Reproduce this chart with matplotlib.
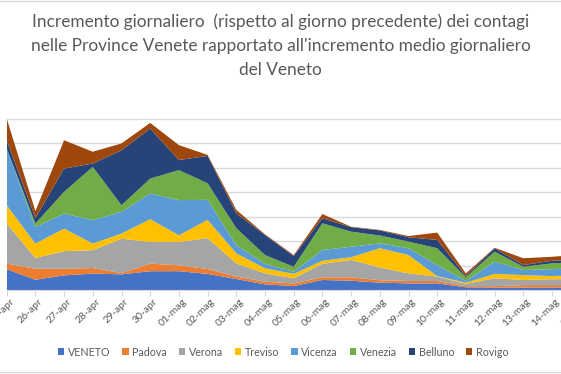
import numpy as np
import matplotlib.pyplot as plt
from matplotlib.transforms import ScaledTranslation

# date di riferimento (asse x)
dates = ['25-apr', '26-apr', '27-apr', '28-apr', '29-apr', '30-apr',
         '01-mag', '02-mag', '03-mag', '04-mag', '05-mag', '06-mag',
         '07-mag', '08-mag', '09-mag', '10-mag', '11-mag', '12-mag',
         '13-mag', '14-mag', '15-mag']

# valori (aree sovrapposte)
veneto  = [0.85, 0.42, 0.60, 0.67, 0.64, 0.77, 0.77, 0.66, 0.45, 0.23, 0.16,
           0.41, 0.38, 0.30, 0.27, 0.27, 0.11, 0.10, 0.10, 0.10, 0.10]
padova  = [0.23, 0.45, 0.27, 0.23, 0.05, 0.31, 0.24, 0.20, 0.10, 0.11, 0.11,
           0.11, 0.14, 0.10, 0.10, 0.10, 0.05, 0.06, 0.10, 0.10, 0.10]
verona  = [1.64, 0.44, 0.72, 0.73, 1.41, 0.89, 0.96, 1.26, 0.54, 0.34, 0.21,
           0.55, 0.71, 0.52, 0.31, 0.18, 0.09, 0.32, 0.21, 0.24, 0.25]
treviso = [0.75, 0.59, 0.92, 0.27, 0.21, 0.93, 0.27, 0.75, 0.41, 0.21, 0.18,
           0.13, 0.11, 0.79, 0.75, 0.02, 0.05, 0.18, 0.20, 0.13, 0.15]
vicenza = [2.32, 0.68, 0.62, 0.96, 0.89, 1.05, 1.44, 0.82, 0.34, 0.18, 0.09,
           0.44, 0.43, 0.20, 0.28, 0.45, 0.07, 0.50, 0.21, 0.28, 0.30]
venezia = [0.00, 0.14, 0.89, 2.18, 0.27, 0.61, 1.23, 0.68, 0.69, 0.36, 0.20,
           1.09, 0.62, 0.32, 0.27, 0.69, 0.15, 0.41, 0.13, 0.24, 0.25]
belluno = [0.34, 0.23, 0.95, 0.14, 2.25, 2.05, 0.41, 1.12, 0.61, 0.82, 0.44,
           0.21, 0.18, 0.21, 0.18, 0.34, 0.05, 0.14, 0.07, 0.11, 0.10]
rovigo  = [0.89, 0.28, 1.16, 0.48, 0.28, 0.23, 0.61, 0.04, 0.14, 0.03, 0.04,
           0.17, 0.02, 0.02, 0.05, 0.30, 0.11, 0.02, 0.28, 0.16, 0.20]

names = ['VENETO', 'Padova', 'Verona', 'Treviso', 'Vicenza', 'Venezia', 'Belluno', 'Rovigo']
colors = ['#4472C4', '#ED7D31', '#A5A5A5', '#FFC000', '#5B9BD5', '#70AD47', '#264478', '#9E480E']

title_lines = ['Incremento giornaliero  (rispetto al giorno precedente) dei contagi',
               "nelle Province Venete rapportato all'incremento medio giornaliero",
               'del Veneto']

plt.rcParams['font.family'] = ['Lato', 'DejaVu Sans']
txt_col = '#595959'
grid_col = '#D9D9D9'

fig = plt.figure(figsize=(5.61, 3.74), dpi=100)
# il grafico originale e' tagliato ai lati: l'asse esce dalla figura a destra
ax = fig.add_axes([6.7 / 561, 84 / 374, 574 / 561, 171 / 374])

x = np.arange(len(dates))
ax.stackplot(x, veneto, padova, verona, treviso, vicenza, venezia, belluno, rovigo,
             colors=colors, labels=names, linewidth=0)

ax.set_xlim(0, len(dates) - 1)
ax.set_ylim(0, 7)
ax.set_yticks(np.arange(0, 8, 1))
ax.yaxis.grid(True, color=grid_col, linewidth=1)
ax.set_axisbelow(True)
ax.tick_params(axis='y', left=False, labelleft=False)

ax.set_xticks(x)
ax.set_xticklabels(dates, rotation=45, ha='right', va='center',
                   rotation_mode='anchor', fontsize=7.5, color=txt_col)
ax.tick_params(axis='x', length=4, color=grid_col, pad=3)
# etichette leggermente spostate a destra come in Excel
shift = ScaledTranslation(6 / 100, 0, fig.dpi_scale_trans)
for lab in ax.get_xticklabels():
    lab.set_transform(lab.get_transform() + shift)

for side in ['top', 'right', 'left']:
    ax.spines[side].set_visible(False)
ax.spines['bottom'].set_color(grid_col)

for i, line in enumerate(title_lines):
    fig.text(0.5, 1 - (22 + 24 * i) / 374, line, ha='center', va='center',
             fontsize=12.4, color=txt_col)

fig.legend(loc='center', bbox_to_anchor=(0.505, 22 / 374), ncol=8, frameon=False,
           fontsize=7.7, labelcolor=txt_col, handlelength=0.6, handleheight=0.6,
           handletextpad=0.35, columnspacing=1.1)

# bordo grigio chiaro del grafico
fig.add_artist(plt.Line2D([0, 1], [0.998, 0.998], color=grid_col, linewidth=1))
fig.add_artist(plt.Line2D([0, 1], [0.006, 0.006], color=grid_col, linewidth=1))

fig.savefig('out.png', dpi=100)
